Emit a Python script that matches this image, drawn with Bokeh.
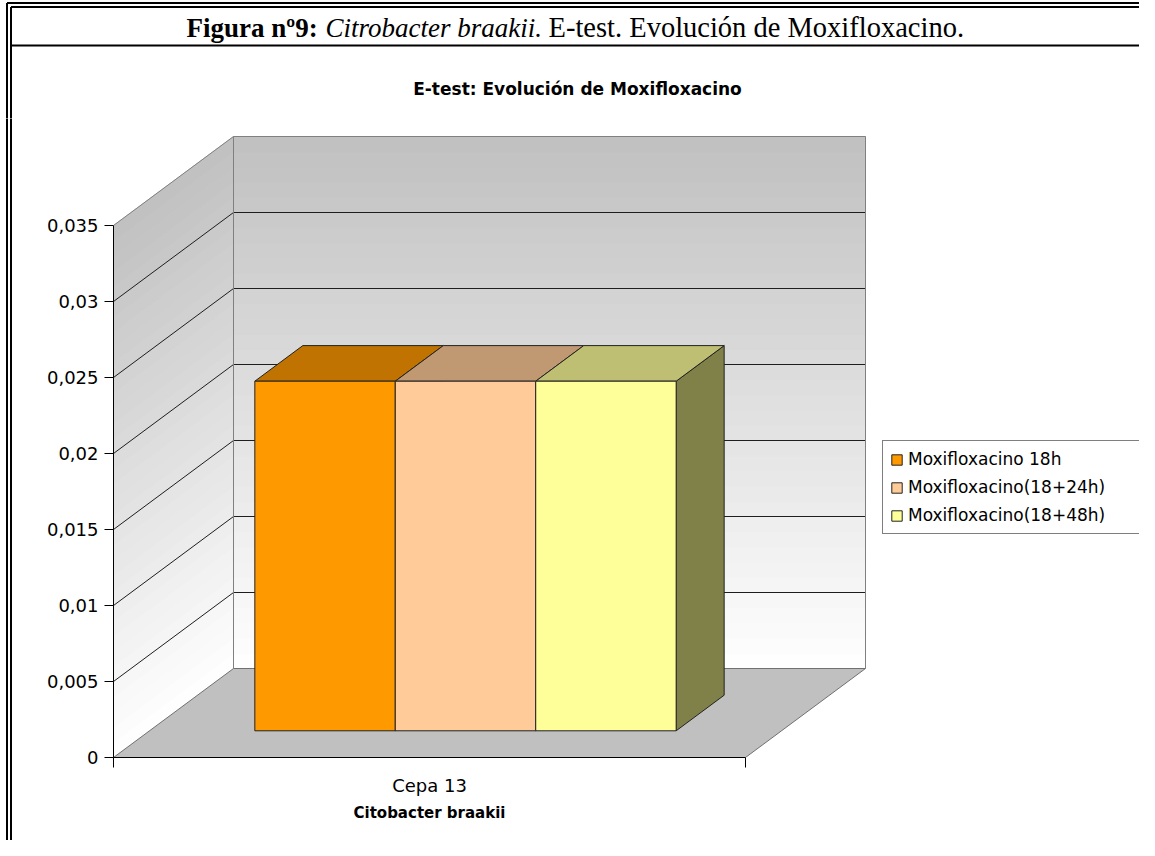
from bokeh.plotting import figure
from bokeh.layouts import column, row
from bokeh.models import Range1d, LinearAxis, FixedTicker, Label
from bokeh.embed import file_html
from bokeh.resources import INLINE

# ---------------- data ----------------
CATEGORIES = ["Cepa 13"]
SERIES = ["Moxifloxacino 18h", "Moxifloxacino(18+24h)", "Moxifloxacino(18+48h)"]
VALUES = [0.023, 0.023, 0.023]
FRONT_COLORS = ["#FF9900", "#FFCC99", "#FFFF99"]
TOP_COLORS = ["#C07300", "#C09973", "#BFBF73"]
SIDE_COLORS = ["#7F4C00", "#7F664C", "#808049"]
Y_TICKS = [0, 0.005, 0.01, 0.015, 0.02, 0.025, 0.03, 0.035]
Y_TICK_LABELS = ["0", "0,005", "0,01", "0,015", "0,02", "0,025", "0,03", "0,035"]
HEADING_BOLD = "Figura nº9:"
HEADING_ITALIC = "Citrobacter braakii."
HEADING_REST = "E-test. Evolución de Moxifloxacino."
CHART_TITLE = "E-test: Evolución de Moxifloxacino"
X_TITLE = "Citobacter braakii"

# ---------------- layout ----------------
W, H = 1139, 840
TOP_H = 118
STRIP_W = 16
MAIN_W, MAIN_H = W - STRIP_W, H - TOP_H
FRAME_L, FRAME_T, FRAME_B = 113, 120, 757          # page pixel positions of the plot frame
PX_PER_CAT = 632.0
PX_PER_VAL = 15200.0
X_END = (W - FRAME_L) / PX_PER_CAT
Y_END = (FRAME_B - FRAME_T) / PX_PER_VAL
DEPTH_X = 120 / PX_PER_CAT
DEPTH_Y = 89 / PX_PER_VAL
Y_MAX = Y_TICKS[-1]
GAP_WIDTH = 1.5
BAR_D0, BAR_D1 = 0.3, 0.7


def proj(x, v, d):
    return (x + d * DEPTH_X, v + d * DEPTH_Y)


def poly(points):
    return [pt[0] for pt in points], [pt[1] for pt in points]


def bare(fig):
    fig.grid.visible = False
    fig.outline_line_color = None
    fig.background_fill_color = "white"
    fig.border_fill_color = "white"
    fig.frame_align = False
    return fig


# ================= heading block =================
top = bare(figure(width=W, height=TOP_H, x_range=Range1d(0, W), y_range=Range1d(TOP_H, 0),
                  output_backend="svg", toolbar_location=None,
                  x_axis_location=None, y_axis_location=None, min_border=0))
top.segment(x0=[6.5, 10.5, 6.5, 10.5, 10.5], y0=[2.5, 6.5, 2.5, 6.5, 45],
            x1=[W + 5, W + 5, 6.5, 10.5, W + 5], y1=[2.5, 6.5, TOP_H + 5, TOP_H + 5, 45],
            line_color="black", line_width=2)
HY = 27
top.add_layout(Label(x=186, y=HY, text=HEADING_BOLD, text_font="Liberation Serif",
                     text_font_size="27px", text_font_style="bold", text_baseline="alphabetic",
                     text_align="left", text_color="black"))
top.add_layout(Label(x=325, y=HY, text=HEADING_ITALIC, text_font="Liberation Serif",
                     text_font_size="27px", text_font_style="italic", text_baseline="alphabetic",
                     text_align="left", text_color="black"))
top.add_layout(Label(x=548, y=HY, text=HEADING_REST, text_font="Liberation Serif",
                     text_font_size="28.5px", text_font_style="normal", text_baseline="alphabetic",
                     text_align="left", text_color="black"))
top.add_layout(Label(x=577, y=88, text=CHART_TITLE, text_font="DejaVu Sans",
                     text_font_size="17px", text_font_style="bold", text_baseline="middle",
                     text_align="center", text_color="black"))

# ================= left double border strip =================
strip = bare(figure(width=STRIP_W, height=MAIN_H, x_range=Range1d(0, STRIP_W),
                    y_range=Range1d(MAIN_H, 0), output_backend="svg", toolbar_location=None,
                    x_axis_location=None, y_axis_location=None, min_border=0))
strip.segment(x0=[6.5, 10.5], y0=[-5, -5], x1=[6.5, 10.5], y1=[MAIN_H + 5, MAIN_H + 5],
              line_color="black", line_width=2)

# ================= main chart =================
p = bare(figure(width=MAIN_W, height=MAIN_H, x_range=Range1d(0, X_END), y_range=Range1d(0, Y_END),
                output_backend="svg", toolbar_location=None,
                x_axis_location=None, y_axis_location=None,
                min_border_left=FRAME_L - STRIP_W, min_border_right=0,
                min_border_top=FRAME_T - TOP_H, min_border_bottom=H - FRAME_B))

# walls with vertical gradient
N = 35
wx, wy, wc = [], [], []
for k in range(N):
    v0 = Y_MAX * k / N
    v1 = Y_MAX * (k + 1) / N
    g = int(round(255 - (255 - 192) * ((v0 + v1) / 2) / Y_MAX))
    col = "#%02x%02x%02x" % (g, g, g)
    for pts in ([proj(0, v0, 0), proj(0, v0, 1), proj(0, v1, 1), proj(0, v1, 0)],
                [proj(0, v0, 1), proj(1, v0, 1), proj(1, v1, 1), proj(0, v1, 1)]):
        xs, ys = poly(pts)
        wx.append(xs); wy.append(ys); wc.append(col)
p.patches(wx, wy, fill_color=wc, line_color=wc, line_width=1)

# gridlines on walls
gx, gy = [], []
for v in Y_TICKS[1:-1]:
    xs, ys = poly([proj(0, v, 0), proj(0, v, 1), proj(1, v, 1)])
    gx.append(xs); gy.append(ys)
p.multi_line(gx, gy, line_color="#1e1e1e", line_width=1)

# wall edges
ex, ey = [], []
for pts in ([proj(0, Y_MAX, 0), proj(0, Y_MAX, 1), proj(1, Y_MAX, 1), proj(1, 0, 1)],
            [proj(0, 0, 1), proj(0, Y_MAX, 1)]):
    xs, ys = poly(pts)
    ex.append(xs); ey.append(ys)
p.multi_line(ex, ey, line_color="#808080", line_width=1)

# floor
fx, fy = poly([proj(0, 0, 0), proj(1, 0, 0), proj(1, 0, 1), proj(0, 0, 1)])
p.patch(fx, fy, fill_color="#c0c0c0", line_color="#707070", line_width=1)

# bars
bw = 1.0 / (len(SERIES) + GAP_WIDTH)
start = GAP_WIDTH * bw / 2
sx_, sy_, tx_, ty_ = [], [], [], []
for i, v in enumerate(VALUES):
    xl = start + i * bw
    xr = xl + bw
    xs, ys = poly([proj(xr, 0, BAR_D0), proj(xr, v, BAR_D0), proj(xr, v, BAR_D1), proj(xr, 0, BAR_D1)])
    sx_.append(xs); sy_.append(ys)
    xs, ys = poly([proj(xl, v, BAR_D0), proj(xr, v, BAR_D0), proj(xr, v, BAR_D1), proj(xl, v, BAR_D1)])
    tx_.append(xs); ty_.append(ys)
p.patches(sx_, sy_, fill_color=SIDE_COLORS, line_color="#222222", line_width=1)
p.patches(tx_, ty_, fill_color=TOP_COLORS, line_color="#222222", line_width=1)
for i, (name, v) in enumerate(zip(SERIES, VALUES)):
    xl = start + i * bw
    xr = xl + bw
    p.quad(left=[xl + BAR_D0 * DEPTH_X], right=[xr + BAR_D0 * DEPTH_X],
           bottom=[BAR_D0 * DEPTH_Y], top=[v + BAR_D0 * DEPTH_Y],
           fill_color=FRONT_COLORS[i], line_color="#222222", line_width=1,
           legend_label=name)

# axes
yax = LinearAxis(ticker=FixedTicker(ticks=Y_TICKS), bounds=(0, Y_MAX),
                 major_label_overrides={t: l for t, l in zip(Y_TICKS, Y_TICK_LABELS)},
                 major_tick_out=9, major_tick_in=0, minor_tick_out=0, minor_tick_in=0,
                 major_label_standoff=6, axis_line_color="black", major_tick_line_color="black",
                 major_label_text_font="DejaVu Sans", major_label_text_font_size="18px",
                 major_label_text_color="black")
p.add_layout(yax, "left")

cat_centers = [i + 0.5 for i in range(len(CATEGORIES))]
cat_bounds = [float(i) for i in range(len(CATEGORIES) + 1)]
xax = LinearAxis(ticker=FixedTicker(ticks=cat_centers, minor_ticks=cat_bounds),
                 bounds=(0, len(CATEGORIES)),
                 major_label_overrides={c: n for c, n in zip(cat_centers, CATEGORIES)},
                 major_tick_out=0, major_tick_in=0, major_tick_line_color=None,
                 minor_tick_out=10, minor_tick_in=0, minor_tick_line_color="black",
                 axis_line_color="black", major_label_standoff=7,
                 major_label_text_font="DejaVu Sans", major_label_text_font_size="18px",
                 major_label_text_color="black")
p.add_layout(xax, "below")

# category-axis title, centred under the category
xtitle = LinearAxis(ticker=FixedTicker(ticks=[len(CATEGORIES) / 2]), bounds=(0, len(CATEGORIES)),
                    major_label_overrides={len(CATEGORIES) / 2: X_TITLE},
                    axis_line_color=None, major_tick_line_color=None, minor_tick_line_color=None,
                    major_tick_out=0, major_tick_in=0, minor_tick_out=0, minor_tick_in=0,
                    major_label_standoff=5,
                    major_label_text_font="DejaVu Sans", major_label_text_font_size="15px",
                    major_label_text_font_style="bold", major_label_text_color="black")
p.add_layout(xtitle, "below")

# legend
leg = p.legend[0]
leg.location = (882 - FRAME_L, FRAME_B - 534)
leg.margin = 0
leg.padding = 7
leg.spacing = 6
leg.label_height = 22
leg.glyph_height = 13
leg.glyph_width = 13
leg.label_standoff = 5
leg.label_width = 224
leg.label_text_font = "DejaVu Sans"
leg.label_text_font_size = "17px"
leg.label_text_color = "black"
leg.border_line_color = "black"
leg.border_line_width = 1
leg.background_fill_color = "white"
leg.background_fill_alpha = 1.0

page = column(top, row(strip, p, spacing=0), spacing=0)
open("out.html", "w").write(file_html(page, INLINE))
